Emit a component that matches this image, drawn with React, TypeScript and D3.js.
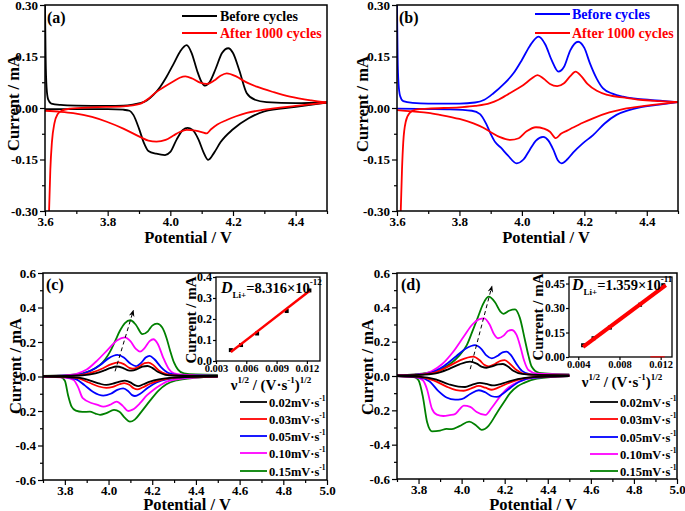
import React, { useEffect, useRef } from "react";
import * as d3 from "d3";

type Pt = [number, number];

// ---------- panel (a) ----------
const aBeforeUp: Pt[] = [
  [3.6, 0.3], [3.602, 0.15], [3.605, 0.06], [3.61, 0.025], [3.62, 0.013], [3.65, 0.009], [3.7, 0.007],
  [3.8, 0.006], [3.85, 0.007], [3.88, 0.01], [3.903, 0.014], [3.925, 0.022], [3.946, 0.038], [3.968, 0.062],
  [3.988, 0.091], [4.01, 0.128], [4.031, 0.164], [4.052, 0.183], [4.068, 0.16], [4.085, 0.11], [4.1, 0.075],
  [4.111, 0.065], [4.125, 0.075], [4.145, 0.115], [4.165, 0.16], [4.185, 0.174], [4.2, 0.16], [4.22, 0.11],
  [4.244, 0.043], [4.27, 0.024], [4.307, 0.017], [4.4, 0.014], [4.5, 0.016],
];
const aBeforeDown: Pt[] = [
  [3.6, -0.003], [3.7, -0.003], [3.8, -0.003], [3.85, -0.005], [3.87, -0.008], [3.882, -0.02], [3.9, -0.06],
  [3.915, -0.1], [3.93, -0.125], [3.955, -0.133], [3.983, -0.137], [4.0, -0.128], [4.02, -0.092], [4.04, -0.064],
  [4.055, -0.058], [4.07, -0.063], [4.09, -0.092], [4.105, -0.127], [4.121, -0.151], [4.14, -0.13], [4.16, -0.1],
  [4.2, -0.062], [4.25, -0.03], [4.3, -0.01], [4.4, 0.003], [4.5, 0.016],
];
const aAfterUp: Pt[] = [
  [3.613, -0.3], [3.617, -0.18], [3.622, -0.1], [3.63, -0.045], [3.64, -0.018], [3.655, -0.007], [3.68, -0.002],
  [3.75, 0.002], [3.85, 0.005], [3.903, 0.012], [3.93, 0.027], [3.956, 0.047], [3.985, 0.064], [4.009, 0.077],
  [4.03, 0.088], [4.048, 0.092], [4.07, 0.086], [4.095, 0.074], [4.116, 0.07], [4.14, 0.08], [4.16, 0.094],
  [4.18, 0.101], [4.21, 0.092], [4.24, 0.076], [4.276, 0.062], [4.33, 0.046], [4.382, 0.033], [4.45, 0.022],
  [4.5, 0.016],
];
const aAfterDown: Pt[] = [
  [3.6, -0.008], [3.65, -0.011], [3.69, -0.015], [3.75, -0.026], [3.797, -0.04], [3.85, -0.06], [3.903, -0.084],
  [3.93, -0.095], [3.956, -0.098], [3.985, -0.093], [4.01, -0.08], [4.03, -0.07], [4.052, -0.064], [4.08, -0.066],
  [4.1, -0.07], [4.116, -0.074], [4.13, -0.062], [4.15, -0.048], [4.18, -0.035], [4.21, -0.024], [4.244, -0.014],
  [4.3, -0.005], [4.4, 0.006], [4.5, 0.016],
];

// ---------- panel (b) ----------
const bBeforeUp: Pt[] = [
  [3.6, 0.3], [3.602, 0.15], [3.605, 0.07], [3.61, 0.035], [3.62, 0.02], [3.65, 0.015], [3.7, 0.013], [3.8, 0.013],
  [3.85, 0.016], [3.88, 0.024], [3.909, 0.043], [3.94, 0.068], [3.973, 0.101], [4.0, 0.14], [4.025, 0.18],
  [4.053, 0.208], [4.075, 0.185], [4.095, 0.14], [4.117, 0.106], [4.135, 0.12], [4.155, 0.168], [4.18, 0.193],
  [4.2, 0.175], [4.218, 0.13], [4.24, 0.085], [4.26, 0.057], [4.29, 0.042], [4.324, 0.033], [4.43, 0.022],
  [4.5, 0.017],
];
const bBeforeDown: Pt[] = [
  [3.6, -0.002], [3.7, -0.003], [3.77, -0.004], [3.84, -0.008], [3.866, -0.018], [3.885, -0.045], [3.9, -0.075],
  [3.915, -0.1], [3.932, -0.115], [3.955, -0.138], [3.983, -0.161], [4.005, -0.15], [4.025, -0.122],
  [4.045, -0.095], [4.068, -0.084], [4.085, -0.095], [4.1, -0.12], [4.115, -0.152], [4.127, -0.161],
  [4.145, -0.15], [4.164, -0.13], [4.195, -0.103], [4.228, -0.079], [4.265, -0.045], [4.303, -0.02],
  [4.34, -0.007], [4.378, 0.002], [4.44, 0.01], [4.5, 0.017],
];
const bAfterUp: Pt[] = [
  [3.612, -0.3], [3.616, -0.18], [3.62, -0.1], [3.628, -0.04], [3.64, -0.015], [3.66, -0.005], [3.7, -0.002],
  [3.8, 0.002], [3.85, 0.006], [3.898, 0.014], [3.925, 0.024], [3.952, 0.038], [3.98, 0.053], [4.005, 0.067],
  [4.03, 0.085], [4.05, 0.096], [4.07, 0.085], [4.09, 0.07], [4.113, 0.064], [4.135, 0.072], [4.155, 0.093],
  [4.172, 0.106], [4.19, 0.093], [4.21, 0.07], [4.24, 0.05], [4.274, 0.038], [4.33, 0.03], [4.378, 0.024],
  [4.44, 0.02], [4.5, 0.017],
];
const bAfterDown: Pt[] = [
  [3.6, -0.006], [3.65, -0.01], [3.7, -0.014], [3.738, -0.02], [3.8, -0.032], [3.845, -0.045], [3.875, -0.057],
  [3.898, -0.069], [3.93, -0.085], [3.963, -0.093], [3.99, -0.088], [4.015, -0.068], [4.045, -0.056],
  [4.07, -0.06], [4.09, -0.069], [4.109, -0.088], [4.125, -0.075], [4.145, -0.066], [4.164, -0.057],
  [4.195, -0.043], [4.228, -0.03], [4.28, -0.013], [4.324, -0.003], [4.4, 0.007], [4.5, 0.017],
];

// ---------- panel (c) ----------
const c002Up: Pt[] = [
  [3.7, 0.002], [3.8, 0.003], [3.88, 0.006], [3.94, 0.018], [3.98, 0.035], [4.01, 0.05], [4.037, 0.058],
  [4.065, 0.05], [4.09, 0.036], [4.105, 0.034], [4.13, 0.042], [4.155, 0.057], [4.178, 0.061], [4.2, 0.05],
  [4.225, 0.027], [4.26, 0.01], [4.3, 0.005], [4.4, 0.003], [4.5, 0.003],
];
const c002Down: Pt[] = [
  [3.7, 0.0], [3.8, -0.002], [3.87, -0.008], [3.92, -0.025], [3.96, -0.042], [3.99, -0.049], [4.02, -0.042],
  [4.05, -0.03], [4.075, -0.024], [4.1, -0.034], [4.12, -0.05], [4.136, -0.056], [4.16, -0.045], [4.19, -0.03],
  [4.23, -0.017], [4.28, -0.008], [4.35, -0.003], [4.5, 0.0],
];
const c003Up: Pt[] = [
  [3.7, 0.002], [3.8, 0.004], [3.87, 0.008], [3.93, 0.025], [3.975, 0.048], [4.01, 0.07], [4.045, 0.082],
  [4.07, 0.072], [4.095, 0.05], [4.112, 0.045], [4.14, 0.058], [4.165, 0.077], [4.183, 0.081], [4.205, 0.066],
  [4.23, 0.035], [4.265, 0.014], [4.31, 0.006], [4.4, 0.004], [4.5, 0.003],
];
const c003Down: Pt[] = [
  [3.7, 0.0], [3.8, -0.003], [3.86, -0.01], [3.91, -0.035], [3.955, -0.058], [3.99, -0.066], [4.02, -0.06],
  [4.05, -0.045], [4.072, -0.038], [4.095, -0.048], [4.115, -0.068], [4.132, -0.075], [4.155, -0.064],
  [4.19, -0.042], [4.23, -0.024], [4.28, -0.011], [4.35, -0.004], [4.5, 0.0],
];
const c005Up: Pt[] = [
  [3.7, 0.003], [3.8, 0.005], [3.86, 0.01], [3.92, 0.035], [3.965, 0.07], [4.0, 0.105], [4.04, 0.125],
  [4.07, 0.11], [4.1, 0.075], [4.125, 0.06], [4.15, 0.08], [4.17, 0.11], [4.188, 0.12], [4.21, 0.1],
  [4.24, 0.055], [4.275, 0.02], [4.32, 0.008], [4.4, 0.005], [4.5, 0.004],
];
const c005Down: Pt[] = [
  [3.7, 0.0], [3.8, -0.004], [3.85, -0.015], [3.89, -0.05], [3.93, -0.09], [3.976, -0.111], [4.01, -0.1],
  [4.04, -0.078], [4.067, -0.069], [4.09, -0.085], [4.108, -0.108], [4.121, -0.113], [4.145, -0.1],
  [4.18, -0.065], [4.22, -0.035], [4.27, -0.015], [4.34, -0.005], [4.5, 0.0],
];
const c010Up: Pt[] = [
  [3.7, 0.003], [3.8, 0.006], [3.85, 0.014], [3.9, 0.04], [3.95, 0.095], [4.0, 0.16], [4.04, 0.21],
  [4.075, 0.227], [4.1, 0.205], [4.125, 0.16], [4.144, 0.144], [4.165, 0.165], [4.188, 0.205], [4.205, 0.216],
  [4.225, 0.19], [4.25, 0.11], [4.275, 0.045], [4.3, 0.018], [4.35, 0.009], [4.5, 0.005],
];
const c010Down: Pt[] = [
  [3.7, 0.0], [3.8, -0.006], [3.84, -0.02], [3.86, -0.06], [3.882, -0.126], [3.925, -0.155], [3.95, -0.165],
  [3.976, -0.175], [4.005, -0.165], [4.037, -0.146], [4.065, -0.17], [4.09, -0.2], [4.11, -0.192],
  [4.144, -0.155], [4.175, -0.11], [4.205, -0.078], [4.24, -0.048], [4.266, -0.03], [4.35, -0.01], [4.5, 0.0],
];
const c015Up: Pt[] = [
  [3.7, 0.004], [3.78, 0.006], [3.85, 0.012], [3.9, 0.025], [3.935, 0.045], [3.961, 0.067], [3.985, 0.1],
  [4.007, 0.144], [4.03, 0.205], [4.052, 0.265], [4.075, 0.31], [4.1, 0.326], [4.125, 0.3], [4.155, 0.246],
  [4.18, 0.262], [4.2, 0.295], [4.222, 0.306], [4.245, 0.285], [4.265, 0.225], [4.281, 0.154], [4.3, 0.08],
  [4.318, 0.04], [4.345, 0.018], [4.4, 0.012], [4.5, 0.01],
];
const c015Down: Pt[] = [
  [3.7, 0.0], [3.78, -0.004], [3.8, -0.025], [3.815, -0.11], [3.831, -0.175], [3.85, -0.198], [3.88, -0.205],
  [3.915, -0.204], [3.94, -0.215], [3.961, -0.222], [3.99, -0.212], [4.025, -0.194], [4.05, -0.205],
  [4.075, -0.24], [4.098, -0.262], [4.12, -0.25], [4.15, -0.205], [4.19, -0.14], [4.23, -0.08], [4.265, -0.045],
  [4.312, -0.022], [4.39, -0.008], [4.5, 0.0],
];

// ---------- panel (d) ----------
const d002Up: Pt[] = [
  [3.7, 0.003], [3.8, 0.006], [3.88, 0.015], [3.94, 0.04], [3.99, 0.068], [4.039, 0.084], [4.07, 0.072],
  [4.095, 0.053], [4.115, 0.048], [4.145, 0.058], [4.17, 0.068], [4.192, 0.07], [4.215, 0.055], [4.24, 0.03],
  [4.28, 0.012], [4.35, 0.006], [4.5, 0.004],
];
const d002Down: Pt[] = [
  [3.7, 0.0], [3.8, -0.004], [3.88, -0.02], [3.94, -0.048], [3.985, -0.062], [4.016, -0.064], [4.05, -0.05],
  [4.085, -0.04], [4.115, -0.046], [4.145, -0.055], [4.17, -0.05], [4.21, -0.035], [4.26, -0.018],
  [4.33, -0.006], [4.5, 0.0],
];
const d003Up: Pt[] = [
  [3.7, 0.003], [3.8, 0.007], [3.87, 0.018], [3.93, 0.05], [3.99, 0.09], [4.054, 0.113], [4.085, 0.09],
  [4.105, 0.065], [4.125, 0.056], [4.155, 0.07], [4.18, 0.088], [4.2, 0.092], [4.225, 0.07], [4.255, 0.035],
  [4.29, 0.013], [4.36, 0.006], [4.5, 0.004],
];
const d003Down: Pt[] = [
  [3.7, 0.0], [3.8, -0.005], [3.87, -0.025], [3.93, -0.062], [3.975, -0.082], [4.01, -0.086], [4.045, -0.072],
  [4.08, -0.058], [4.11, -0.068], [4.14, -0.08], [4.17, -0.068], [4.21, -0.045], [4.26, -0.022],
  [4.33, -0.007], [4.5, 0.0],
];
const d005Up: Pt[] = [
  [3.7, 0.003], [3.8, 0.008], [3.86, 0.02], [3.92, 0.06], [3.975, 0.115], [4.02, 0.16], [4.062, 0.18],
  [4.09, 0.16], [4.115, 0.12], [4.14, 0.103], [4.17, 0.12], [4.19, 0.138], [4.209, 0.142], [4.23, 0.12],
  [4.255, 0.07], [4.28, 0.03], [4.32, 0.01], [4.4, 0.006], [4.5, 0.005],
];
const d005Down: Pt[] = [
  [3.7, 0.0], [3.8, -0.008], [3.85, -0.03], [3.89, -0.085], [3.93, -0.125], [3.97, -0.138], [4.0, -0.135],
  [4.04, -0.105], [4.08, -0.083], [4.11, -0.095], [4.14, -0.118], [4.163, -0.122], [4.19, -0.105],
  [4.23, -0.065], [4.27, -0.032], [4.33, -0.01], [4.5, 0.0],
];
const d010Up: Pt[] = [
  [3.7, 0.004], [3.8, 0.01], [3.86, 0.028], [3.91, 0.07], [3.96, 0.14], [4.01, 0.23], [4.05, 0.3],
  [4.08, 0.33], [4.105, 0.336], [4.13, 0.3], [4.15, 0.245], [4.17, 0.22], [4.195, 0.235], [4.215, 0.262],
  [4.232, 0.268], [4.255, 0.24], [4.275, 0.16], [4.29, 0.09], [4.31, 0.035], [4.35, 0.014], [4.5, 0.008],
];
const d010Down: Pt[] = [
  [3.7, 0.0], [3.79, -0.008], [3.82, -0.025], [3.84, -0.08], [3.862, -0.19], [3.885, -0.225], [3.915, -0.233],
  [3.945, -0.228], [3.969, -0.222], [3.99, -0.195], [4.01, -0.172], [4.04, -0.18], [4.07, -0.21],
  [4.109, -0.227], [4.14, -0.185], [4.178, -0.12], [4.21, -0.075], [4.24, -0.048], [4.29, -0.022],
  [4.36, -0.008], [4.5, 0.0],
];
const d015Up: Pt[] = [
  [3.7, 0.005], [3.78, 0.01], [3.84, 0.018], [3.869, 0.025], [3.91, 0.045], [3.946, 0.07], [3.99, 0.12],
  [4.024, 0.18], [4.05, 0.26], [4.075, 0.34], [4.1, 0.42], [4.125, 0.462], [4.155, 0.43], [4.18, 0.375],
  [4.194, 0.362], [4.22, 0.38], [4.248, 0.388], [4.27, 0.34], [4.294, 0.21], [4.31, 0.12], [4.325, 0.055],
  [4.36, 0.018], [4.42, 0.012], [4.5, 0.01],
];
const d015Down: Pt[] = [
  [3.7, 0.0], [3.78, -0.006], [3.8, -0.025], [3.82, -0.12], [3.84, -0.27], [3.862, -0.322], [3.9, -0.318],
  [3.93, -0.308], [3.955, -0.31], [3.99, -0.292], [4.035, -0.266], [4.065, -0.285], [4.093, -0.314],
  [4.125, -0.29], [4.163, -0.217], [4.2, -0.145], [4.225, -0.1], [4.26, -0.06], [4.29, -0.04], [4.35, -0.015],
  [4.5, 0.0],
];

// dashed guide arrows (peak shift)
const cArrow: Pt[] = [[4.03, 0.03], [4.113, 0.38]];
const dArrow: Pt[] = [[4.04, 0.04], [4.14, 0.52]];

// ---------- insets ----------
const sqrtRate = [0.00447, 0.00548, 0.00707, 0.01, 0.01225];
const cPeakCurrent = [0.052, 0.076, 0.131, 0.238, 0.336];
const cFit: Pt[] = [[0.00447, 0.043], [0.01225, 0.333]];
const dSqrtRate = [0.00447, 0.00548, 0.00707, 0.01, 0.01225];
const dPeakCurrent = [0.072, 0.115, 0.18, 0.32, 0.44];
const dFit: Pt[] = [[0.00447, 0.062], [0.0125, 0.44]];
const dStray: Pt[] = [[0.011, 0.001], [0.0124, 0.001]];

const rateLabels = ["0.02", "0.03", "0.05", "0.10", "0.15"];
const rateColors = ["#000000", "#ff0000", "#0000ff", "#ff00ff", "#008000"];

const FONT = "'Liberation Serif', 'Times New Roman', serif";

interface Series {
  color: string;
  up: Pt[];
  down: Pt[];
}

interface PanelCfg {
  id: string;
  left: number;
  right: number;
  top: number;
  bottom: number;
  xDomain: [number, number];
  yDomain: [number, number];
  xMajor: number[];
  xMinor: number[];
  yMajor: number[];
  yMinor: number[];
  xDigits: number;
  yDigits: number;
  series: Series[];
}

type Sel = d3.Selection<SVGSVGElement, unknown, null, undefined>;

function styleAxis(g: d3.Selection<SVGGElement, unknown, null, undefined>, size: number) {
  g.attr("font-family", FONT).attr("font-weight", "bold").attr("font-size", size);
  g.select(".domain").remove();
  g.selectAll(".tick line").attr("stroke", "#000").attr("stroke-width", 1.2);
  g.selectAll(".tick text").attr("fill", "#000");
}

function drawPanel(svg: Sel, cfg: PanelCfg) {
  const x = d3.scaleLinear().domain(cfg.xDomain).range([cfg.left, cfg.right]);
  const y = d3.scaleLinear().domain(cfg.yDomain).range([cfg.bottom, cfg.top]);
  const g = svg.append("g");

  g.append("clipPath")
    .attr("id", "clip-" + cfg.id)
    .append("rect")
    .attr("x", cfg.left)
    .attr("y", cfg.top)
    .attr("width", cfg.right - cfg.left)
    .attr("height", cfg.bottom - cfg.top);

  const line = d3
    .line<Pt>()
    .x((d) => x(d[0]))
    .y((d) => y(d[1]))
    .curve(d3.curveMonotoneX);

  const curves = g.append("g").attr("clip-path", `url(#clip-${cfg.id})`);
  cfg.series.forEach((s) => {
    [s.up, s.down].forEach((arr) => {
      curves
        .append("path")
        .attr("d", line(arr))
        .attr("fill", "none")
        .attr("stroke", s.color)
        .attr("stroke-width", 1.8);
    });
  });

  // minor + major ticks, outward
  const fx = (d: d3.NumberValue) => (+d).toFixed(cfg.xDigits);
  const fy = (d: d3.NumberValue) => (+d).toFixed(cfg.yDigits);
  const xMin = g.append("g").attr("transform", `translate(0,${cfg.bottom})`)
    .call(d3.axisBottom(x).tickValues(cfg.xMinor).tickSize(3).tickFormat(() => ""));
  styleAxis(xMin, 13);
  const xMaj = g.append("g").attr("transform", `translate(0,${cfg.bottom})`)
    .call(d3.axisBottom(x).tickValues(cfg.xMajor).tickSize(5).tickPadding(1).tickFormat(fx));
  styleAxis(xMaj, 13);
  const yMin = g.append("g").attr("transform", `translate(${cfg.left},0)`)
    .call(d3.axisLeft(y).tickValues(cfg.yMinor).tickSize(3).tickFormat(() => ""));
  styleAxis(yMin, 13);
  const yMaj = g.append("g").attr("transform", `translate(${cfg.left},0)`)
    .call(d3.axisLeft(y).tickValues(cfg.yMajor).tickSize(5).tickPadding(2).tickFormat(fy));
  styleAxis(yMaj, 13);

  g.append("rect")
    .attr("x", cfg.left)
    .attr("y", cfg.top)
    .attr("width", cfg.right - cfg.left)
    .attr("height", cfg.bottom - cfg.top)
    .attr("fill", "none")
    .attr("stroke", "#000")
    .attr("stroke-width", 1.5);

  return { x, y, g };
}

function boldText(
  parent: d3.Selection<any, unknown, null, undefined>,
  txt: string,
  xx: number,
  yy: number,
  size: number,
  anchor = "start",
  color = "#000"
) {
  return parent
    .append("text")
    .attr("x", xx)
    .attr("y", yy)
    .attr("font-family", FONT)
    .attr("font-weight", "bold")
    .attr("font-size", size)
    .attr("fill", color)
    .attr("text-anchor", anchor)
    .text(txt);
}

function yTitle(svg: Sel, txt: string, xx: number, cy: number, size: number) {
  svg
    .append("text")
    .attr("transform", `translate(${xx},${cy}) rotate(-90)`)
    .attr("font-family", FONT)
    .attr("font-weight", "bold")
    .attr("font-size", size)
    .attr("text-anchor", "middle")
    .text(txt);
}

function insetXTitle(svg: Sel, cx: number, by: number) {
  const t = svg
    .append("text")
    .attr("x", cx)
    .attr("y", by)
    .attr("font-family", FONT)
    .attr("font-weight", "bold")
    .attr("font-size", 15)
    .attr("text-anchor", "middle");
  t.append("tspan").text("\u03bd");
  t.append("tspan").attr("font-size", 9).attr("dy", -7).text("1/2");
  t.append("tspan").attr("dy", 7).text(" / (V\u00b7s");
  t.append("tspan").attr("font-size", 9).attr("dy", -7).text("-1");
  t.append("tspan").attr("dy", 7).text(")");
  t.append("tspan").attr("font-size", 9).attr("dy", -7).text("1/2");
}

interface InsetCfg {
  left: number;
  right: number;
  top: number;
  bottom: number;
  xDomain: [number, number];
  yDomain: [number, number];
  xTicks: number[];
  yTicks: number[];
  xDigits: number;
  yDigits: number;
  xs: number[];
  ys: number[];
  fit: Pt[];
  fitWidth: number;
  yFont: number;
}

function drawInset(svg: Sel, cfg: InsetCfg) {
  const x = d3.scaleLinear().domain(cfg.xDomain).range([cfg.left, cfg.right]);
  const y = d3.scaleLinear().domain(cfg.yDomain).range([cfg.bottom, cfg.top]);
  const g = svg.append("g");
  g.append("rect")
    .attr("x", cfg.left)
    .attr("y", cfg.top)
    .attr("width", cfg.right - cfg.left)
    .attr("height", cfg.bottom - cfg.top)
    .attr("fill", "#fff");

  const xa = g.append("g").attr("transform", `translate(0,${cfg.bottom})`)
    .call(d3.axisBottom(x).tickValues(cfg.xTicks).tickSize(3).tickPadding(1)
      .tickFormat((d) => (+d).toFixed(cfg.xDigits)));
  styleAxis(xa, 10.5);
  const ya = g.append("g").attr("transform", `translate(${cfg.left},0)`)
    .call(d3.axisLeft(y).tickValues(cfg.yTicks).tickSize(3).tickPadding(1)
      .tickFormat((d) => (+d).toFixed(cfg.yDigits)));
  styleAxis(ya, cfg.yFont);

  const line = d3.line<Pt>().x((d) => x(d[0])).y((d) => y(d[1]));
  g.selectAll(".pt")
    .data(cfg.xs.map((v, i) => [v, cfg.ys[i]] as Pt))
    .enter()
    .append("rect")
    .attr("x", (d) => x(d[0]) - 2)
    .attr("y", (d) => y(d[1]) - 2)
    .attr("width", 4)
    .attr("height", 4)
    .attr("fill", "#000");
  g.append("path")
    .attr("d", line(cfg.fit))
    .attr("stroke", "#ff0000")
    .attr("stroke-width", cfg.fitWidth)
    .attr("fill", "none");

  g.append("rect")
    .attr("x", cfg.left)
    .attr("y", cfg.top)
    .attr("width", cfg.right - cfg.left)
    .attr("height", cfg.bottom - cfg.top)
    .attr("fill", "none")
    .attr("stroke", "#000")
    .attr("stroke-width", 1.3);
  return { x, y, g };
}

function diffusionLabel(svg: Sel, xx: number, yy: number, mant: string, expo: string) {
  const t = svg
    .append("text")
    .attr("x", xx)
    .attr("y", yy)
    .attr("font-family", FONT)
    .attr("font-weight", "bold")
    .attr("font-size", 14.5);
  t.append("tspan").attr("font-style", "italic").attr("font-size", 16).text("D");
  t.append("tspan").attr("font-size", 9).attr("dy", 5).text("Li+");
  t.append("tspan").attr("dy", -5).text("=" + mant + "\u00d710");
  t.append("tspan").attr("font-size", 9).attr("dy", -8).text(expo);
}

function rateLegend(svg: Sel, x1: number, x2: number, rows: number[]) {
  rateLabels.forEach((lab, i) => {
    svg.append("line")
      .attr("x1", x1).attr("x2", x2).attr("y1", rows[i]).attr("y2", rows[i])
      .attr("stroke", rateColors[i]).attr("stroke-width", 1.8);
    const t = boldText(svg, "", x2 + 2, rows[i] + 4.5, 12.5);
    t.append("tspan").text(lab + "mV\u00b7s");
    t.append("tspan").attr("font-size", 7.5).attr("dy", -6).text("-1");
  });
}

const App: React.FC = () => {
  const svgRef = useRef<SVGSVGElement | null>(null);

  useEffect(() => {
    const svg = d3.select(svgRef.current as SVGSVGElement) as Sel;
    svg.selectAll("*").remove();

    svg.append("defs")
      .append("marker")
      .attr("id", "arrowhead")
      .attr("viewBox", "0 0 10 10")
      .attr("refX", 8)
      .attr("refY", 5)
      .attr("markerWidth", 7)
      .attr("markerHeight", 7)
      .attr("orient", "auto")
      .append("path")
      .attr("d", "M0,1 L10,5 L0,9 L3,5 Z")
      .attr("fill", "#000");

    const abX = [3.6, 3.8, 4.0, 4.2, 4.4];
    const abXm = [3.7, 3.9, 4.1, 4.3, 4.5];
    const abY = [-0.3, -0.15, 0, 0.15, 0.3];
    const abYm = [-0.225, -0.075, 0.075, 0.225];
    const cdX = [3.8, 4.0, 4.2, 4.4, 4.6, 4.8, 5.0];
    const cdXm = [3.7, 3.9, 4.1, 4.3, 4.5, 4.7, 4.9];
    const cdY = [-0.6, -0.4, -0.2, 0, 0.2, 0.4, 0.6];
    const cdYm = [-0.5, -0.3, -0.1, 0.1, 0.3, 0.5];

    // (a)
    drawPanel(svg, {
      id: "a", left: 45, right: 327, top: 5, bottom: 211,
      xDomain: [3.6, 4.5], yDomain: [-0.3, 0.3],
      xMajor: abX, xMinor: abXm, yMajor: abY, yMinor: abYm, xDigits: 1, yDigits: 2,
      series: [
        { color: "#000000", up: aBeforeUp, down: aBeforeDown },
        { color: "#ff0000", up: aAfterUp, down: aAfterDown },
      ],
    });
    boldText(svg, "(a)", 47, 23, 16);
    svg.append("line").attr("x1", 182).attr("x2", 217).attr("y1", 16).attr("y2", 16)
      .attr("stroke", "#000").attr("stroke-width", 1.8);
    boldText(svg, "Before cycles", 220, 21, 14);
    svg.append("line").attr("x1", 182).attr("x2", 217).attr("y1", 33).attr("y2", 33)
      .attr("stroke", "#ff0000").attr("stroke-width", 1.8);
    boldText(svg, "After 1000 cycles", 220, 38, 14, "start", "#ff0000");
    boldText(svg, "Potential / V", 188, 243, 16.5, "middle");
    yTitle(svg, "Current / mA", 19, 103, 16.5);

    // (b)
    drawPanel(svg, {
      id: "b", left: 397, right: 678, top: 5, bottom: 211,
      xDomain: [3.6, 4.5], yDomain: [-0.3, 0.3],
      xMajor: abX, xMinor: abXm, yMajor: abY, yMinor: abYm, xDigits: 1, yDigits: 2,
      series: [
        { color: "#0000ff", up: bBeforeUp, down: bBeforeDown },
        { color: "#ff0000", up: bAfterUp, down: bAfterDown },
      ],
    });
    boldText(svg, "(b)", 399, 23, 16);
    svg.append("line").attr("x1", 535).attr("x2", 570).attr("y1", 14).attr("y2", 14)
      .attr("stroke", "#0000ff").attr("stroke-width", 1.8);
    boldText(svg, "Before cycles", 572, 19, 14, "start", "#0000ff");
    svg.append("line").attr("x1", 535).attr("x2", 570).attr("y1", 33).attr("y2", 33)
      .attr("stroke", "#ff0000").attr("stroke-width", 1.8);
    boldText(svg, "After 1000 cycles", 572, 38, 14, "start", "#ff0000");
    boldText(svg, "Potential / V", 546, 243, 16.5, "middle");
    yTitle(svg, "Current / mA", 368, 104, 16.5);

    // (c)
    const c = drawPanel(svg, {
      id: "c", left: 43, right: 327, top: 273, bottom: 480,
      xDomain: [3.7, 5.0], yDomain: [-0.6, 0.6],
      xMajor: cdX, xMinor: cdXm, yMajor: cdY, yMinor: cdYm, xDigits: 1, yDigits: 1,
      series: [
        { color: rateColors[4], up: c015Up, down: c015Down },
        { color: rateColors[3], up: c010Up, down: c010Down },
        { color: rateColors[2], up: c005Up, down: c005Down },
        { color: rateColors[1], up: c003Up, down: c003Down },
        { color: rateColors[0], up: c002Up, down: c002Down },
      ],
    });
    c.g.append("line")
      .attr("x1", c.x(cArrow[0][0])).attr("y1", c.y(cArrow[0][1]))
      .attr("x2", c.x(cArrow[1][0])).attr("y2", c.y(cArrow[1][1]))
      .attr("stroke", "#000").attr("stroke-width", 1).attr("stroke-dasharray", "4,3")
      .attr("marker-end", "url(#arrowhead)");
    boldText(svg, "(c)", 46, 290, 16);
    boldText(svg, "Potential / V", 187, 510, 16.5, "middle");
    yTitle(svg, "Current / mA", 21, 366, 16.5);
    rateLegend(svg, 240, 267, [402, 419, 436, 453, 471]);

    drawInset(svg, {
      left: 216, right: 320, top: 277, bottom: 361,
      xDomain: [0.003, 0.0133], yDomain: [0, 0.4],
      xTicks: [0.003, 0.006, 0.009, 0.012], yTicks: [0, 0.1, 0.2, 0.3, 0.4],
      xDigits: 3, yDigits: 1, xs: sqrtRate, ys: cPeakCurrent, fit: cFit, fitWidth: 2.5, yFont: 12,
    });
    diffusionLabel(svg, 221, 293, "8.316", "-12");
    yTitle(svg, "Current / mA", 196, 320, 15);
    insetXTitle(svg, 271, 390);

    // (d)
    const d = drawPanel(svg, {
      id: "d", left: 397, right: 677, top: 273, bottom: 479,
      xDomain: [3.7, 5.0], yDomain: [-0.6, 0.6],
      xMajor: cdX, xMinor: cdXm, yMajor: cdY, yMinor: cdYm, xDigits: 1, yDigits: 1,
      series: [
        { color: rateColors[4], up: d015Up, down: d015Down },
        { color: rateColors[3], up: d010Up, down: d010Down },
        { color: rateColors[2], up: d005Up, down: d005Down },
        { color: rateColors[1], up: d003Up, down: d003Down },
        { color: rateColors[0], up: d002Up, down: d002Down },
      ],
    });
    d.g.append("line")
      .attr("x1", d.x(dArrow[0][0])).attr("y1", d.y(dArrow[0][1]))
      .attr("x2", d.x(dArrow[1][0])).attr("y2", d.y(dArrow[1][1]))
      .attr("stroke", "#000").attr("stroke-width", 1).attr("stroke-dasharray", "4,3")
      .attr("marker-end", "url(#arrowhead)");
    boldText(svg, "(d)", 401, 290, 16);
    boldText(svg, "Potential / V", 533, 510, 16.5, "middle");
    yTitle(svg, "Current / mA", 373, 367, 16.5);
    rateLegend(svg, 590, 618, [402, 419, 437, 454, 471]);

    const di = drawInset(svg, {
      left: 569, right: 672, top: 277, bottom: 357,
      xDomain: [0.0031, 0.0131], yDomain: [0, 0.49],
      xTicks: [0.004, 0.008, 0.012], yTicks: [0, 0.15, 0.3, 0.45],
      xDigits: 3, yDigits: 2, xs: dSqrtRate, ys: dPeakCurrent, fit: dFit, fitWidth: 4, yFont: 11.5,
    });
    di.g.append("path")
      .attr("d", d3.line<Pt>().x((p) => di.x(p[0])).y((p) => di.y(p[1]))(dStray))
      .attr("stroke", "#ff0000").attr("stroke-width", 1).attr("fill", "none");
    diffusionLabel(svg, 572, 290, "1.359", "-11");
    yTitle(svg, "Current / mA", 543, 317, 15);
    insetXTitle(svg, 622, 387);
  }, []);

  return (
    <svg
      ref={svgRef}
      width={685}
      height={511}
      style={{ position: "absolute", left: 0, top: 0, background: "#fff" }}
    ></svg>
  );
};

export default App;
